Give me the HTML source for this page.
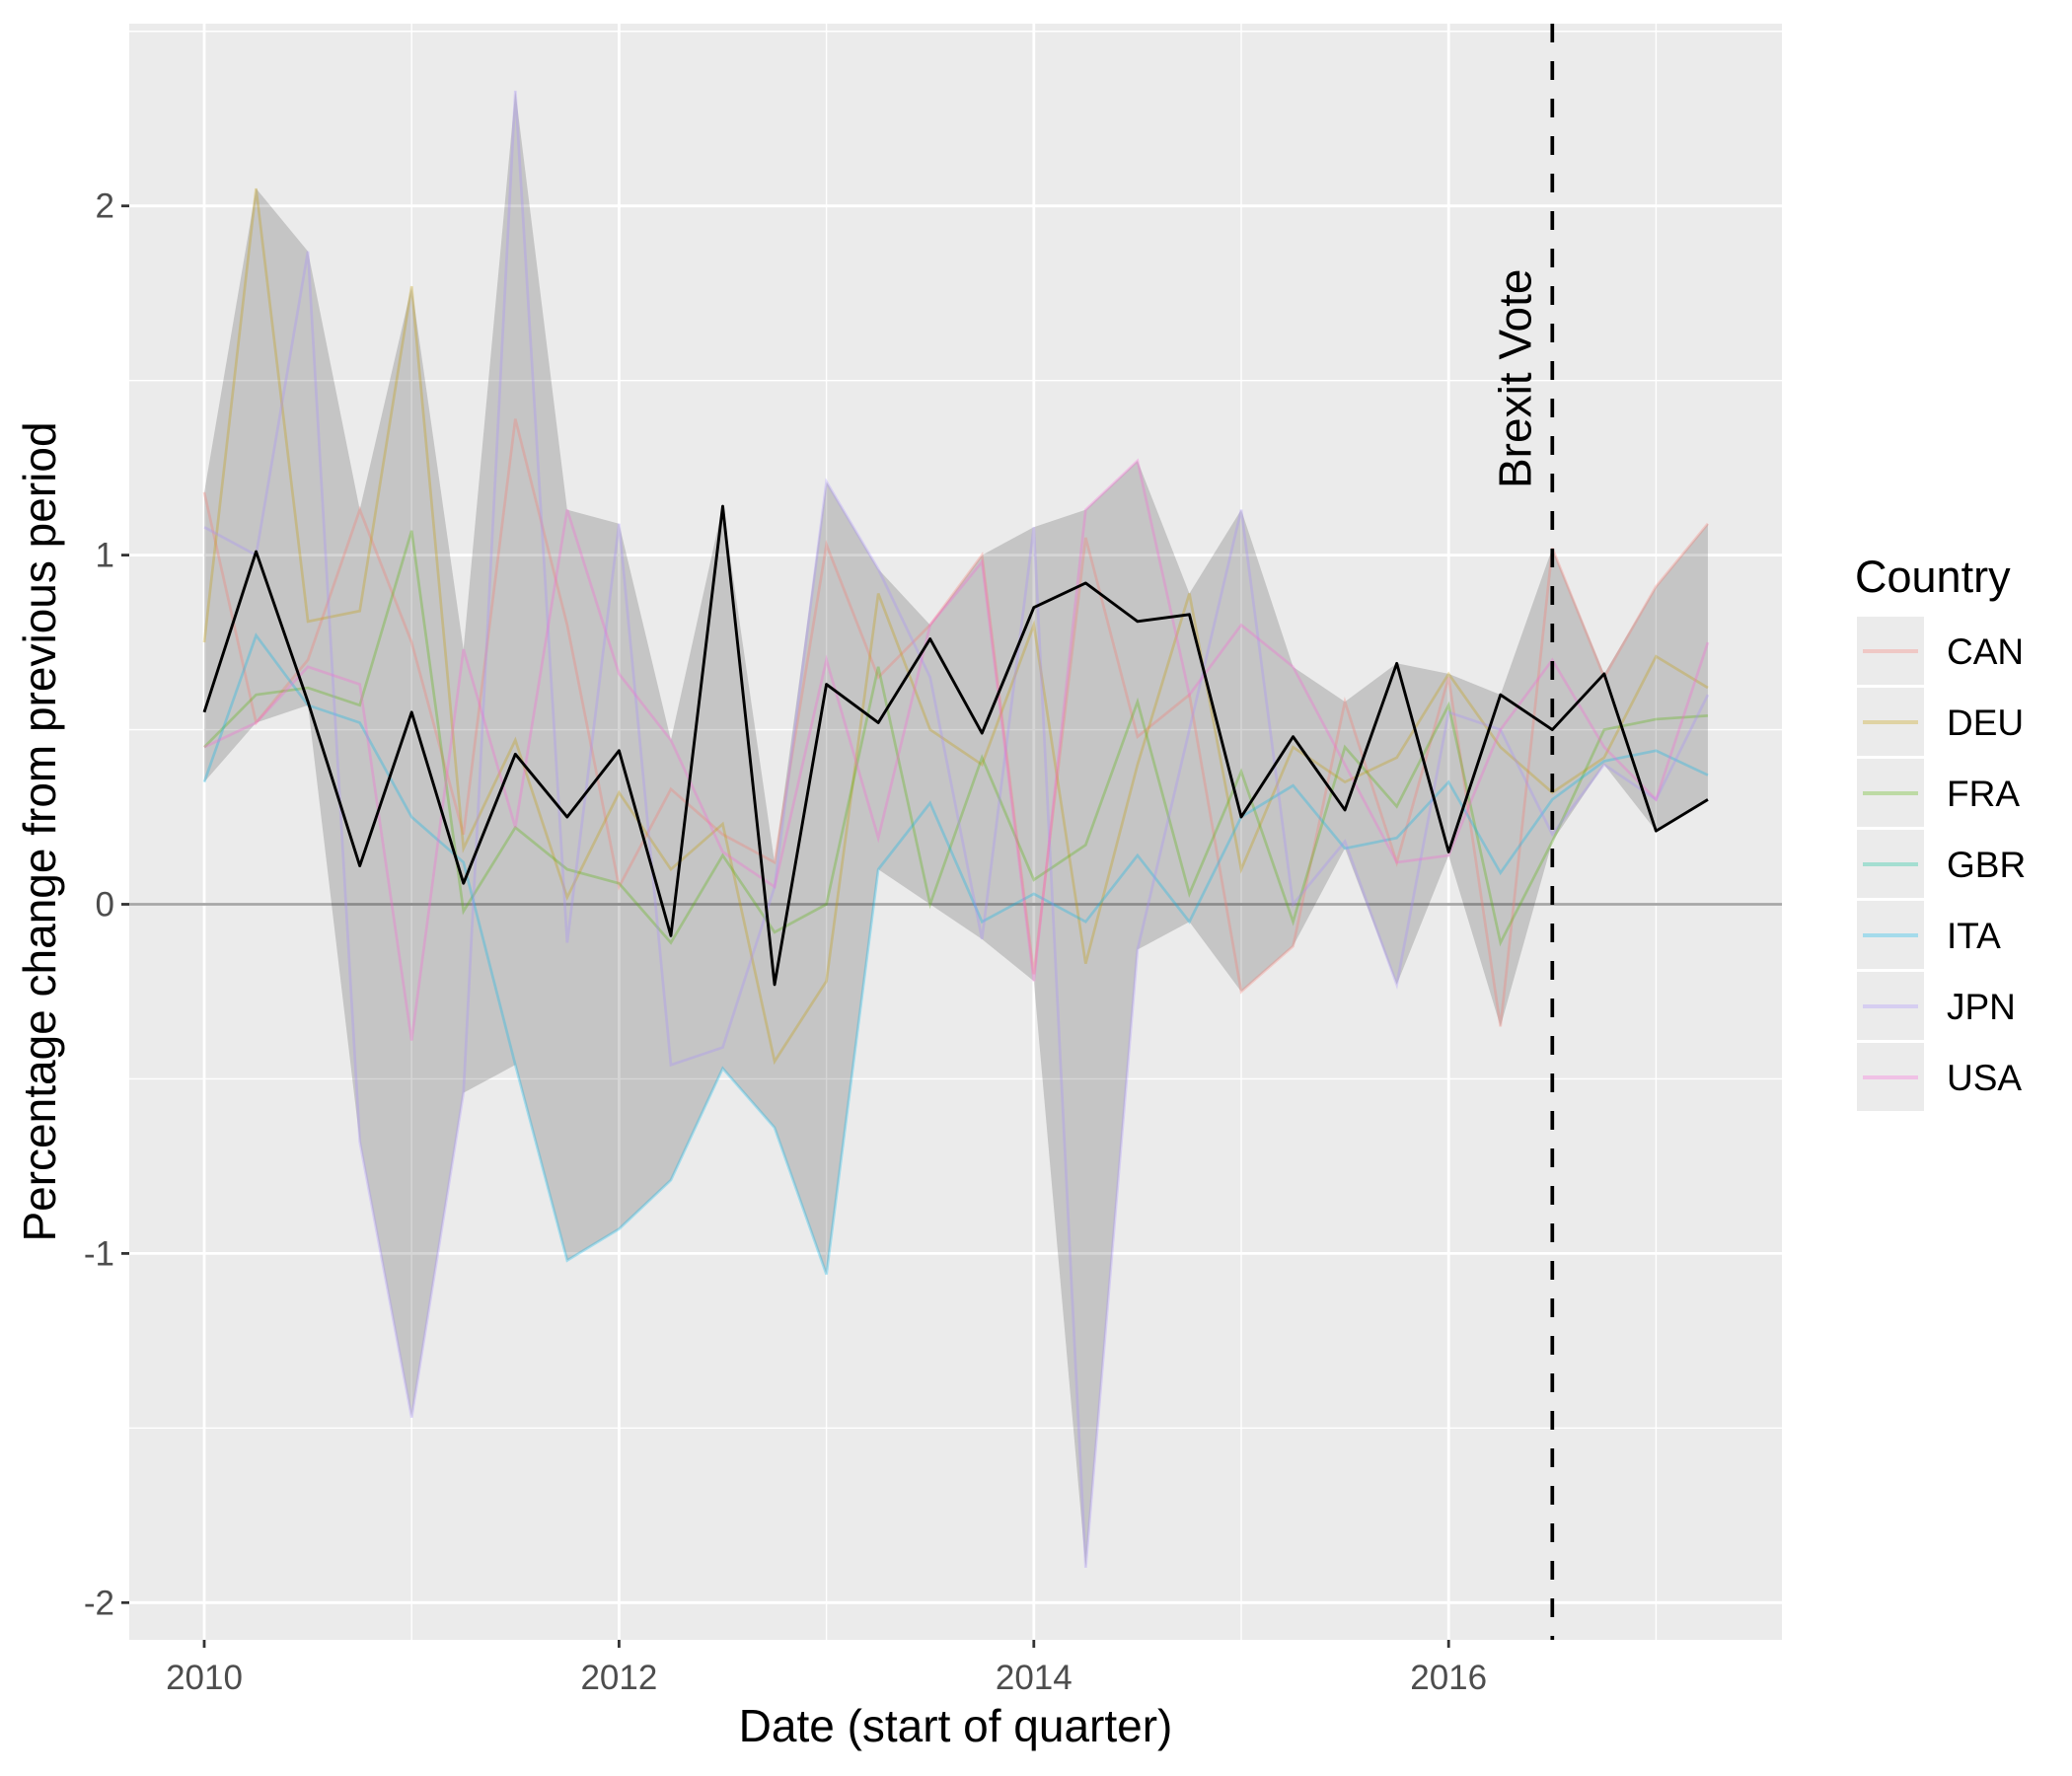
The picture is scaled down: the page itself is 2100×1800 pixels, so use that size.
<!DOCTYPE html>
<html><head><meta charset="utf-8"><style>body{margin:0;background:#fff}svg{display:block;font-family:"Liberation Sans",Arial,sans-serif}</style></head>
<body>
<svg id="c" width="2100" height="1800" viewBox="0 0 2100 1800"></svg>
<script>
const dates=[2010,2010.25,2010.5,2010.75,2011,2011.25,2011.5,2011.75,2012,2012.25,2012.5,2012.75,2013,2013.25,2013.5,2013.75,2014,2014.25,2014.5,2014.75,2015,2015.25,2015.5,2015.75,2016,2016.25,2016.5,2016.75,2017,2017.25];
const countries=["CAN","DEU","FRA","GBR","ITA","JPN","USA"];
const colors=["#F8766D","#C49A00","#53B400","#00C094","#00B6EB","#A58AFF","#FB61D7"];
const CAN=[1.18,0.52,0.7,1.13,0.75,0.2,1.39,0.8,0.05,0.33,0.2,0.12,1.03,0.65,0.8,1.0,-0.2,1.05,0.48,0.6,-0.25,-0.12,0.58,0.12,0.65,-0.35,1.02,0.65,0.91,1.09];
const DEU=[0.75,2.05,0.81,0.84,1.77,0.16,0.47,0.02,0.32,0.1,0.23,-0.45,-0.22,0.89,0.5,0.4,0.8,-0.17,0.4,0.89,0.1,0.45,0.35,0.42,0.66,0.45,0.32,0.42,0.71,0.62];
const FRA=[0.45,0.6,0.62,0.57,1.07,-0.02,0.22,0.1,0.06,-0.11,0.14,-0.08,0.0,0.68,0.0,0.42,0.07,0.17,0.58,0.03,0.38,-0.05,0.45,0.28,0.57,-0.11,0.18,0.5,0.53,0.54];
const GBR=[0.55,1.01,0.58,0.11,0.55,0.06,0.43,0.25,0.44,-0.09,1.14,-0.23,0.63,0.52,0.76,0.49,0.85,0.92,0.81,0.83,0.25,0.48,0.27,0.69,0.15,0.6,0.5,0.66,0.21,0.3];
const ITA=[0.35,0.77,0.57,0.52,0.25,0.12,-0.46,-1.02,-0.93,-0.79,-0.47,-0.64,-1.06,0.1,0.29,-0.05,0.03,-0.05,0.14,-0.05,0.25,0.34,0.16,0.19,0.35,0.09,0.3,0.41,0.44,0.37];
const JPN=[1.08,1.0,1.87,-0.68,-1.47,-0.54,2.33,-0.11,1.09,-0.46,-0.41,0.05,1.21,0.96,0.65,-0.1,1.08,-1.9,-0.13,0.5,1.13,0.0,0.18,-0.23,0.55,0.5,0.2,0.4,0.3,0.6];
const USA=[0.45,0.52,0.68,0.63,-0.39,0.73,0.22,1.13,0.66,0.47,0.15,0.05,0.7,0.19,0.8,0.98,-0.22,1.13,1.27,0.6,0.8,0.68,0.4,0.12,0.14,0.5,0.7,0.45,0.3,0.75];
const yTicks=[-2,-1,0,1,2];
const xTicks=[2010,2012,2014,2016];
const brexitDate=2016.5;

const series=[CAN,DEU,FRA,GBR,ITA,JPN,USA];
const NS="http://www.w3.org/2000/svg";
const svg=document.getElementById("c");
const L=131,R=1806,T=24,B=1662;
const X=v=>207+(v-2010)*210.2;
const Y=v=>916.5-v*353.9;
function el(t,a,p){const e=document.createElementNS(NS,t);for(const k in a)e.setAttribute(k,a[k]);(p||svg).appendChild(e);return e;}

const bg=el("rect",{x:L,y:T,width:R-L,height:B-T,fill:"#EBEBEB"});


for(let v=-2.5;v<=2.5;v+=1){const yy=Y(v);if(yy<T||yy>B)continue;const g=el("line",{x1:L,x2:R,y1:yy,y2:yy,stroke:"#fff","stroke-width":1.4});

}
for(let v=2009;v<=2017;v+=2){const xx=X(v);if(xx<L||xx>R)continue;const g=el("line",{x1:xx,x2:xx,y1:T,y2:B,stroke:"#fff","stroke-width":1.4});

}
yTicks.forEach(v=>{const g=el("line",{x1:L,x2:R,y1:Y(v),y2:Y(v),stroke:"#fff","stroke-width":2.8});


const tk=el("line",{x1:L-8,x2:L,y1:Y(v),y2:Y(v),stroke:"#333","stroke-width":2.8});


const t=el("text",{x:L-15,y:Y(v)+12,"text-anchor":"end","font-size":35,fill:"#4D4D4D"});t.textContent=v;

});
xTicks.forEach(v=>{const g=el("line",{x1:X(v),x2:X(v),y1:T,y2:B,stroke:"#fff","stroke-width":2.8});


const tk=el("line",{x1:X(v),x2:X(v),y1:B,y2:B+8,stroke:"#333","stroke-width":2.8});


const t=el("text",{x:X(v),y:B+50,"text-anchor":"middle","font-size":35,fill:"#4D4D4D"});t.textContent=v;

});
const z=el("line",{x1:L,x2:R,y1:Y(0),y2:Y(0),stroke:"#A6A6A6","stroke-width":2.8});


const up=dates.map((d,i)=>X(d)+","+Y(Math.max(...series.map(s=>s[i]))));
const lo=dates.map((d,i)=>X(d)+","+Y(Math.min(...series.map(s=>s[i])))).reverse();
const rb=el("polygon",{points:up.concat(lo).join(" "),fill:"#000","fill-opacity":0.16});


series.forEach((s,k)=>{if(countries[k]==="GBR")return;const p=el("polyline",{points:dates.map((d,i)=>X(d)+","+Y(s[i])).join(" "),fill:"none",stroke:colors[k],"stroke-opacity":0.3,"stroke-width":2.7});

});
const gb=el("polyline",{points:dates.map((d,i)=>X(d)+","+Y(GBR[i])).join(" "),fill:"none",stroke:"#000","stroke-width":2.9,"stroke-linejoin":"round"});


const bx=el("line",{x1:X(brexitDate),x2:X(brexitDate),y1:T,y2:B,stroke:"#000","stroke-width":3.7,"stroke-dasharray":"19 19"});


const bt=el("text",{x:0,y:0,"font-size":46,transform:`translate(${X(brexitDate)-22},495) rotate(-90)`});bt.textContent="Brexit Vote";


const xt=el("text",{x:(L+R)/2,y:1765,"text-anchor":"middle","font-size":46});xt.textContent="Date (start of quarter)";


const yt=el("text",{x:0,y:0,"text-anchor":"middle","font-size":46,transform:`translate(56,${(T+B)/2}) rotate(-90)`});yt.textContent="Percentage change from previous period";


const lt=el("text",{x:1880,y:600,"font-size":45});lt.textContent="Country";


countries.forEach((c,k)=>{const top=625+k*72;
const g=el("g",{});


el("rect",{x:1882,y:top,width:68,height:69,fill:"#EBEBEB"},g);
el("line",{x1:1888,x2:1944,y1:top+35,y2:top+35,stroke:colors[k],"stroke-opacity":0.3,"stroke-width":4},g);
const t=el("text",{x:1973,y:top+48,"font-size":37},g);t.textContent=c;});
</script>
</body></html>
